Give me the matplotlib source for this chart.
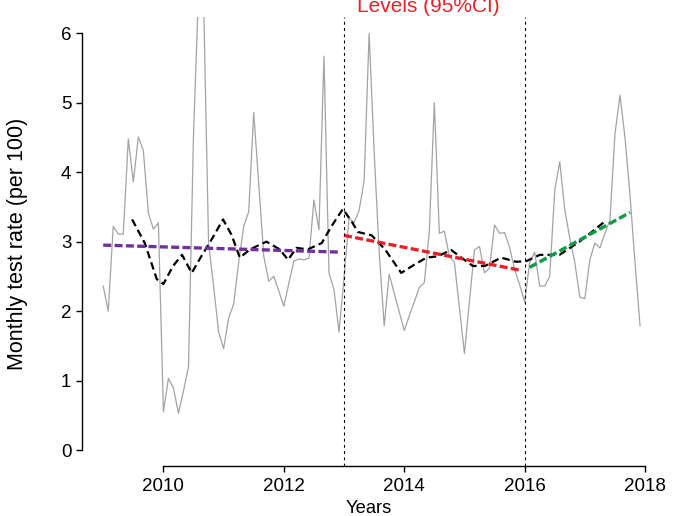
import numpy as np
import matplotlib
matplotlib.use("Agg")
import matplotlib.pyplot as plt

plt.rcParams['font.family'] = ['Liberation Sans', 'DejaVu Sans']

# monthly test rate per 100, Jan 2009 - Dec 2017
rate = [
    2.36, 2.00, 3.22, 3.11, 3.11, 4.48, 3.86, 4.51, 4.31, 3.41, 3.18, 3.27,
    0.55, 1.03, 0.89, 0.53, 0.85, 1.20, 4.55, 6.60, 6.50, 2.98, 2.36, 1.70,
    1.46, 1.90, 2.10, 2.70, 3.22, 3.43, 4.86, 3.83, 2.79, 2.43, 2.50, 2.29,
    2.07, 2.40, 2.72, 2.75, 2.74, 2.76, 3.60, 3.17, 5.67, 2.55, 2.31, 1.70,
    2.48, 3.34, 3.27, 3.45, 3.87, 6.00, 4.30, 2.85, 1.79, 2.53, 2.26, 1.99,
    1.72, 1.93, 2.13, 2.34, 2.41, 3.15, 5.00, 3.12, 3.15, 2.79, 2.70, 2.05,
    1.39, 2.15, 2.88, 2.93, 2.55, 2.62, 3.24, 3.12, 3.13, 2.92, 2.60, 2.38,
    2.13, 2.70, 2.85, 2.36, 2.36, 2.50, 3.74, 4.15, 3.46, 3.05, 2.70, 2.20,
    2.18, 2.74, 2.98, 2.91, 3.12, 3.31, 4.55, 5.11, 4.50, 3.67, 2.70, 1.79,
]
months = 2009 + np.arange(len(rate)) / 12

# smoothed trend
trend_t = [2009.48, 2009.69, 2009.89, 2010.00, 2010.16, 2010.31, 2010.47, 2010.63,
           2010.80, 2010.99, 2011.13, 2011.27, 2011.44, 2011.71, 2011.93, 2012.07,
           2012.21, 2012.40, 2012.63, 2012.79, 2012.98, 2013.12, 2013.23, 2013.46,
           2013.68, 2013.95, 2014.17, 2014.37, 2014.56, 2014.78, 2014.95, 2015.14,
           2015.34, 2015.61, 2015.86, 2016.03, 2016.25, 2016.58, 2016.91, 2017.16,
           2017.33]
trend_v = [3.32, 2.98, 2.46, 2.39, 2.65, 2.81, 2.55, 2.79,
           3.03, 3.32, 3.10, 2.77, 2.89, 3.00, 2.89, 2.74,
           2.91, 2.89, 2.98, 3.22, 3.47, 3.30, 3.14, 3.09,
           2.89, 2.55, 2.67, 2.77, 2.79, 2.88, 2.77, 2.65,
           2.65, 2.77, 2.71, 2.72, 2.81, 2.81, 3.00, 3.17,
           3.29]

# segmented regression fits (start, end)
seg_t = [(2009.0, 2012.917), (2013.0, 2015.917), (2016.083, 2017.75)]
seg_v = [(2.95, 2.85), (3.09, 2.59), (2.63, 3.42)]
seg_colors = ['#7030A0', '#E8202A', '#0A9B45']

breaks = [2013.0, 2016.0]

fig = plt.figure(figsize=(6.85, 5.16), dpi=100)
ax = fig.add_axes([0.1193, 0.0969, 0.8470, 0.8709])

ax.plot(months, rate, color='#A3A3A3', lw=0.9)
ax.plot(trend_t, trend_v, color='black', lw=1.6, dashes=(3.4, 1.9))
for (t0, t1), (v0, v1), c in zip(seg_t, seg_v, seg_colors):
    ax.plot([t0, t1], [v0, v1], color=c, lw=2.4, dashes=(2.4, 1.0))
for b in breaks:
    ax.axvline(b, color='black', lw=0.8, dashes=(2.6, 3.0))

ax.set_xlim(2008.643, 2018.28)
ax.set_ylim(-0.23, 6.24)
ax.set_xticks(np.arange(2010, 2019, 2))
ax.set_yticks(np.arange(0, 7, 1))

for s in ['top', 'right']:
    ax.spines[s].set_visible(False)
ax.spines['left'].set_bounds(0, 6)
ax.spines['bottom'].set_bounds(2010, 2018)
for s in ['left', 'bottom']:
    ax.spines[s].set_linewidth(1.0)
ax.tick_params(axis='both', direction='out', length=4, width=1.0,
               labelsize=13.5, colors='black')
ax.tick_params(axis='x', pad=4.5)
ax.tick_params(axis='y', pad=3.5)

ax.set_xlabel('Years', fontsize=13.2, va='baseline')
ax.xaxis.set_label_coords(0.495, -0.1035)
ax.set_ylabel('Monthly test rate (per 100)', fontsize=15.5, va='center')
ax.yaxis.set_label_coords(-0.1107, 0.494)

# panel heading sits partly above the top edge
fig.text(0.625, 0.9773, 'Levels (95%CI)', color='#E8202A', fontsize=15,
         ha='center', va='baseline')

fig.savefig('out.png', dpi=100)
